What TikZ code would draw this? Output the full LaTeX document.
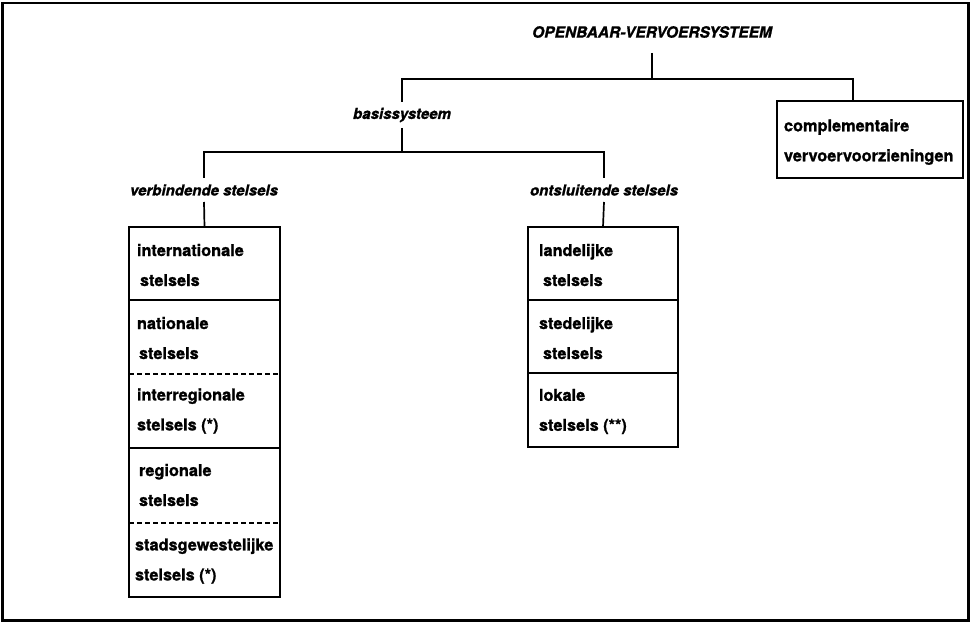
\documentclass[tikz,border=0pt]{standalone}
\usepackage{fontspec}
\setmainfont{TeX Gyre Heros}[BoldFeatures={FakeBold=1.2}, BoldItalicFeatures={FakeBold=1.2}]
\begin{document}
\begin{tikzpicture}[x=1pt,y=-1pt,
  every node/.style={inner sep=0pt, outer sep=0pt},
  heading/.style={font=\fontsize{15.5}{18}\selectfont\bfseries\itshape},
  branch/.style={font=\fontsize{15}{18}\selectfont\bfseries\itshape},
  celltext/.style={font=\fontsize{16.3}{30}\selectfont\bfseries, align=left, anchor=west},
  frameline/.style={line width=2.6pt},
  boxline/.style={line width=2pt},
  conn/.style={line width=1.7pt},
  divider/.style={line width=1.7pt},
  dashdivider/.style={line width=1.4pt, dash pattern=on 5pt off 3pt}
]
\useasboundingbox (0,0) rectangle (971,623);
% outer frame
\draw[frameline] (2.5,3) rectangle (968.5,620.5);

% hierarchy labels
\node[heading, minimum height=42pt] (top) at (652,32) {OPENBAAR-VERVOERSYSTEEM};
\node[branch, minimum height=26pt] (basis) at (402,115) {basissysteem};
\node[branch, minimum height=24pt] (verb) at (204,190) {verbindende stelsels};
\node[branch, minimum height=24pt] (onts) at (604,190) {ontsluitende stelsels};

% boxes
\node[draw, boxline, anchor=north west, minimum width=151pt, minimum height=370pt] (lbox) at (129,227) {};
\node[draw, boxline, anchor=north west, minimum width=150pt, minimum height=220pt] (rbox) at (528,227) {};
\node[draw, boxline, anchor=north west, minimum width=186pt, minimum height=77pt] (compl) at (777,101) {};

% dividers of the left box
\draw[divider] ([yshift=-73pt]lbox.north west) -- ([yshift=-73pt]lbox.north east);
\draw[dashdivider] ([yshift=-147pt]lbox.north west) -- ([yshift=-147pt]lbox.north east);
\draw[divider] ([yshift=-221pt]lbox.north west) -- ([yshift=-221pt]lbox.north east);
\draw[dashdivider] ([yshift=-296pt]lbox.north west) -- ([yshift=-296pt]lbox.north east);
% dividers of the right box
\draw[divider] ([yshift=-73pt]rbox.north west) -- ([yshift=-73pt]rbox.north east);
\draw[divider] ([yshift=-146pt]rbox.north west) -- ([yshift=-146pt]rbox.north east);

% cell texts
\node[celltext] (l1) at (137,265) {internationale\\\hspace*{3pt}stelsels};
\node[celltext] (l2) at (137,338) {nationale\\\hspace*{2pt}stelsels};
\node[celltext] (l3) at (137,411) {interregionale\\stelsels (*)};
\node[celltext] (l4) at (139,485) {regionale\\stelsels};
\node[celltext] (l5) at (135,561) {stadsgewestelijke\\stelsels (*)};
\node[celltext] (r1) at (539,265) {landelijke\\\hspace*{4pt}stelsels};
\node[celltext] (r2) at (539,338) {stedelijke\\\hspace*{4pt}stelsels};
\node[celltext] (r3) at (539,411.5) {lokale\\stelsels (**)};
\node[celltext] (c1) at (784,142) {complementaire\\vervoervoorzieningen};

% connectors
\coordinate (bus1) at (652,79);
\coordinate (bus2) at (402,152);
\draw[conn] (top.south) -- (bus1) -| (basis.north);
\draw[conn] (bus1) -| ([xshift=76pt]compl.north west);
\draw[conn] (basis.south) -- (bus2) -| (verb.north);
\draw[conn] (bus2) -| (onts.north);
\draw[conn] (verb.south) -- (lbox.north);
\draw[conn] (onts.south) -- (rbox.north);
\end{tikzpicture}
\end{document}
